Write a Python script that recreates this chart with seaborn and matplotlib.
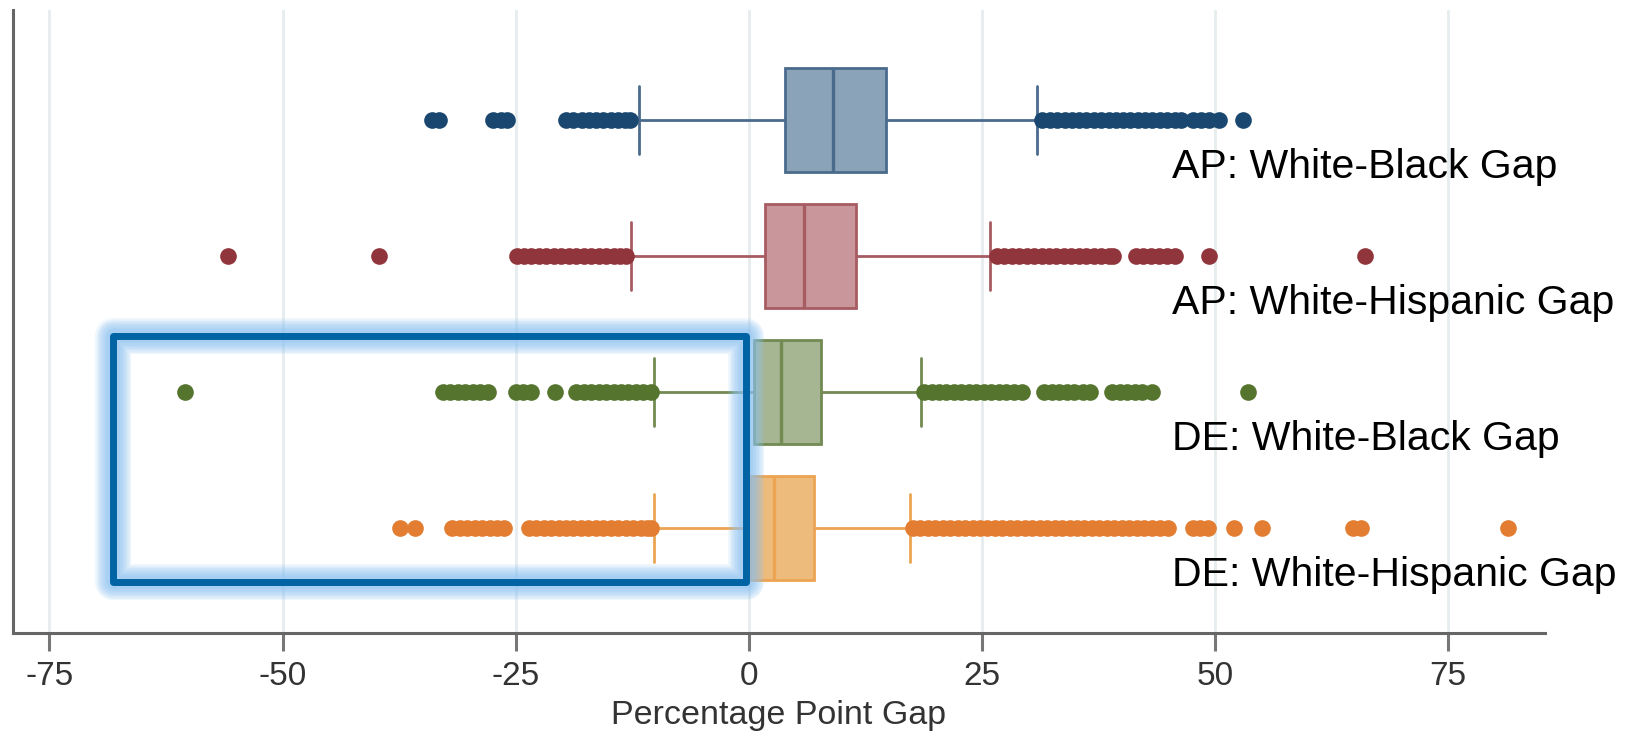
import numpy as np
import pandas as pd
import seaborn as sns
import matplotlib.pyplot as plt
from matplotlib.patches import Rectangle

gap_names = ["AP: White-Black Gap", "AP: White-Hispanic Gap",
             "DE: White-Black Gap", "DE: White-Hispanic Gap"]
dot_colors = ["#1a476f", "#90353b", "#55752f", "#e27d32"]
fill_colors = ["#8ba3b9", "#c9979b", "#a7b692", "#edbb7c"]
edge_colors = ["#4a6b8c", "#a75c62", "#718b52", "#eca453"]

# box summaries
whisker_low = [-11.8, -12.6, -10.2, -10.2]
q1 = [3.85, 1.7, 0.55, 0.1]
median = [9.0, 5.95, 3.5, 2.7]
q3 = [14.75, 11.55, 7.8, 7.05]
whisker_high = [30.9, 25.9, 18.5, 17.3]

low_outliers = [
    [-34.0, -33.2, -27.4, -26.6, -25.9, -19.6, -18.8, -17.9, -17.1, -16.4,
     -15.6, -14.8, -14.0, -13.3, -12.7],
    [-55.8, -39.6, -24.9, -24.1, -23.3, -22.5, -21.7, -20.9, -20.1, -19.3,
     -18.5, -17.7, -16.9, -16.1, -15.3, -14.5, -13.8, -13.2],
    [-60.5, -32.8, -32.0, -31.2, -30.4, -29.6, -28.8, -28.0, -25.0, -24.2,
     -23.4, -20.8, -18.5, -17.7, -16.9, -16.1, -15.3, -14.5, -13.7, -12.9,
     -12.1, -11.3, -10.5],
    [-37.4, -35.8, -31.8, -31.0, -30.2, -29.4, -28.6, -27.8, -27.0, -26.2,
     -23.6, -22.8, -22.0, -21.2, -20.4, -19.6, -18.8, -18.0, -17.2, -16.4,
     -15.6, -14.8, -14.0, -13.2, -12.4, -11.6, -10.9, -10.5],
]
high_outliers = [
    [31.5, 32.3, 33.1, 33.9, 34.7, 35.4, 36.2, 37.0, 37.8, 38.6, 39.4, 40.1,
     40.9, 41.7, 42.5, 43.3, 44.1, 44.9, 45.7, 46.4, 47.6, 48.5, 49.4, 50.4,
     53.0],
    [26.6, 27.4, 28.2, 29.0, 29.8, 30.6, 31.4, 32.2, 33.0, 33.8, 34.6, 35.4,
     36.2, 37.0, 37.8, 38.6, 39.1, 41.5, 42.3, 43.1, 44.0, 44.9, 45.7, 49.4,
     66.1],
    [18.8, 19.6, 20.4, 21.2, 22.0, 22.8, 23.6, 24.4, 25.2, 26.0, 26.8, 27.6,
     28.4, 29.3, 31.7, 32.5, 33.3, 34.1, 34.9, 35.8, 36.6, 39.0, 39.8, 40.6,
     41.4, 42.2, 43.2, 53.5],
    [17.6, 18.4, 19.2, 20.0, 20.8, 21.6, 22.4, 23.2, 24.0, 24.8, 25.6, 26.4,
     27.2, 28.0, 28.8, 29.6, 30.4, 31.2, 32.0, 32.8, 33.6, 34.4, 35.2, 36.0,
     36.8, 37.6, 38.4, 39.2, 40.0, 40.8, 41.6, 42.4, 43.2, 44.1, 45.0, 47.6,
     48.4, 49.2, 52.0, 55.0, 64.8, 65.7, 81.4],
]

# rebuild a sample per group whose quartiles / whiskers / fliers match the summaries
n_rep = 200
rows = []
for i, name in enumerate(gap_names):
    vals = (low_outliers[i] + [whisker_low[i]]
            + [q1[i]] * n_rep + [median[i]] * n_rep + [q3[i]] * n_rep
            + [whisker_high[i]] + high_outliers[i])
    rows.append(pd.DataFrame({"gap": name, "value": vals}))
df = pd.concat(rows, ignore_index=True)

sns.set_theme(style="white")
plt.rcParams["font.family"] = ["Liberation Sans", "DejaVu Sans"]
plt.rcParams["axes.unicode_minus"] = False

fig = plt.figure(figsize=(16.5, 7.34), dpi=100)
ax = fig.add_axes([0.0079, 0.1376, 0.9285, 0.8488])

for i, name in enumerate(gap_names):
    sub = df[df.gap == name]
    sns.boxplot(data=sub, x="value", y="gap", order=gap_names, orient="h",
                width=0.76, whis=1.5, color=fill_colors[i], linecolor=edge_colors[i],
                saturation=1, ax=ax,
                boxprops=dict(facecolor=fill_colors[i], edgecolor=edge_colors[i], linewidth=2),
                whiskerprops=dict(color=edge_colors[i], linewidth=2),
                capprops=dict(color=edge_colors[i], linewidth=2),
                medianprops=dict(color=edge_colors[i], linewidth=2.4),
                flierprops=dict(marker="o", markersize=12, markerfacecolor=dot_colors[i],
                                markeredgecolor=dot_colors[i], markeredgewidth=0))

# stretch caps to half the row spacing
for line in ax.lines:
    xd, yd = np.asarray(line.get_xdata(), float), np.asarray(line.get_ydata(), float)
    if len(xd) == 2 and xd[0] == xd[1] and abs(yd[1] - yd[0]) < 0.5:
        c = yd.mean()
        line.set_ydata([c - 0.25, c + 0.25])

for i, name in enumerate(gap_names):
    ax.text(45.35, i + 0.425, name, fontsize=29.5, color="black",
            ha="left", va="baseline", clip_on=False)

# highlight box with a soft glow
hx0, hx1, hy0, hy1 = -68.2, -0.3, 1.59, 3.40
for lw in range(26, 7, -2):
    ax.add_patch(Rectangle((hx0, hy0), hx1 - hx0, hy1 - hy0, fill=False,
                           edgecolor="#8cc3f2", linewidth=lw, alpha=0.13,
                           joinstyle="round", zorder=5))
ax.add_patch(Rectangle((hx0, hy0), hx1 - hx0, hy1 - hy0, fill=False,
                       edgecolor="#0063a4", linewidth=5, joinstyle="round", zorder=6))

ax.set_xlim(-78.9, 85.4)
ax.set_ylim(3.772, -0.809)
ax.set_xticks([-75, -50, -25, 0, 25, 50, 75])
ax.set_yticks([])
ax.set_ylabel("")
ax.xaxis.grid(True, color="#e6edef", linewidth=2)
ax.set_axisbelow(True)
ax.tick_params(axis="x", length=13, width=2.2, color="#777777", labelsize=24,
               labelcolor="#333333", pad=7, bottom=True)
for s in ["top", "right"]:
    ax.spines[s].set_visible(False)
for s in ["left", "bottom"]:
    ax.spines[s].set_color("#666666")
    ax.spines[s].set_linewidth(2.2)
ax.set_xlabel("Percentage Point Gap", fontsize=24.5, color="#333333", labelpad=6)

fig.savefig("out.png", dpi=100)
